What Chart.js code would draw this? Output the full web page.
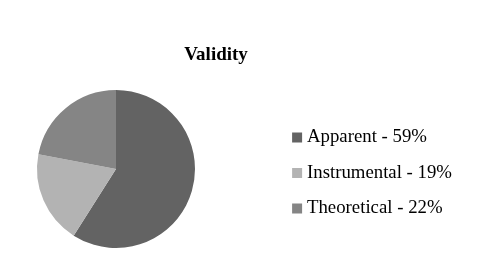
<!DOCTYPE html>
<html>
<head>
<meta charset="utf-8">
<script src="https://cdn.jsdelivr.net/npm/chart.js@4.4.0/dist/chart.umd.min.js"></script>
<style>
  html, body { margin: 0; padding: 0; background: #fff; }
  #wrap { width: 487px; height: 269px; }
</style>
</head>
<body>
<div id="wrap"><canvas id="chart" width="487" height="269"></canvas></div>
<script>
// chart data
const categories = ['Apparent', 'Instrumental', 'Theoretical'];
const shares = [59, 19, 22];
const sliceColors = ['#636363', '#b3b3b3', '#858585'];

const serif = "'Liberation Serif', 'Times New Roman', serif";

// the pie sits in the left part only, the legend is far off to the right
const PIE_AREA_WIDTH = 232;
const LEGEND_DROP = 4;
const pieArea = {
  id: 'pieArea',
  afterLayout(chart) {
    const area = chart.chartArea;
    area.right = area.left + PIE_AREA_WIDTH;
    area.width = PIE_AREA_WIDTH;
    // push the legend rows a bit lower
    chart.legend.top += LEGEND_DROP;
    chart.legend.bottom += LEGEND_DROP;
  }
};

const ctx = document.getElementById('chart').getContext('2d');
const chart = new Chart(ctx, {
  type: 'pie',
  data: {
    labels: categories.map((c, i) => `${c} - ${shares[i]}%`),
    datasets: [{
      data: shares,
      backgroundColor: sliceColors,
      borderWidth: 0
    }]
  },
  options: {
    responsive: false,
    animation: false,
    layout: { padding: { left: -30, right: 25, top: 0, bottom: 21 } },
    plugins: {
      title: {
        display: true,
        text: 'Validity',
        color: '#000',
        font: { family: serif, size: 19, weight: 'bold' },
        padding: { top: 43.5, bottom: 23.7 }
      },
      legend: {
        position: 'right',
        fullSize: false,
        labels: {
          color: '#000',
          font: { family: serif, size: 18.8 },
          // square marker with a tight gap before the text
          usePointStyle: true,
          pointStyle: 'rect',
          boxWidth: 1,
          boxHeight: 10,
          padding: 16.7
        }
      },
      tooltip: { enabled: false }
    }
  },
  plugins: [pieArea]
});
</script>
</body>
</html>
